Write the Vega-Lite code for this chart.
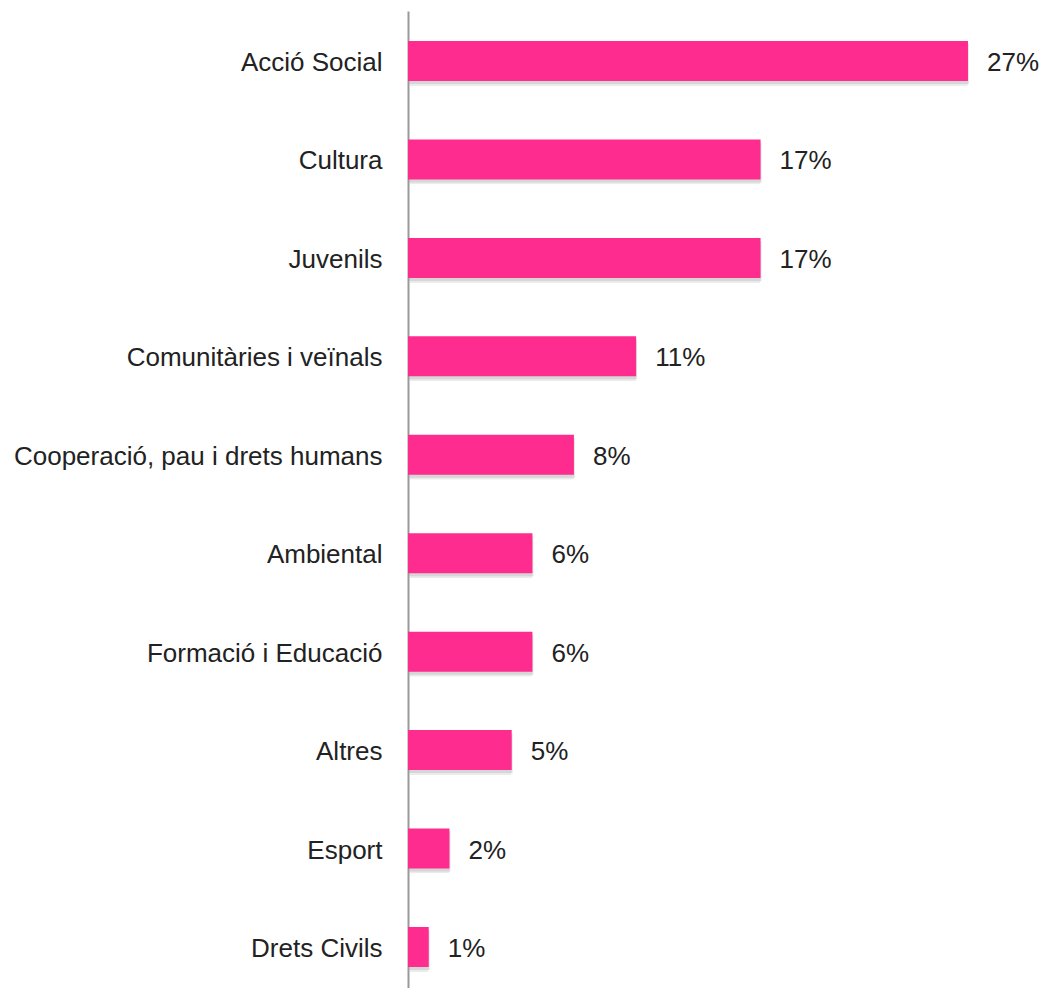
{
  "$schema": "https://vega.github.io/schema/vega-lite/v6.json",
  "autosize": {"type": "none"},
  "padding": {"left": 408, "top": 11, "right": 0, "bottom": 0},
  "width": 639,
  "height": 986,
  "background": "white",
  "config": {"view": {"stroke": null}, "font": "Liberation Sans"},
  "data": {"values": [
    {"category": "Acció Social", "value": 27, "label": "27%"},
    {"category": "Cultura", "value": 17, "label": "17%"},
    {"category": "Juvenils", "value": 17, "label": "17%"},
    {"category": "Comunitàries i veïnals", "value": 11, "label": "11%"},
    {"category": "Cooperació, pau i drets humans", "value": 8, "label": "8%"},
    {"category": "Ambiental", "value": 6, "label": "6%"},
    {"category": "Formació i Educació", "value": 6, "label": "6%"},
    {"category": "Altres", "value": 5, "label": "5%"},
    {"category": "Esport", "value": 2, "label": "2%"},
    {"category": "Drets Civils", "value": 1, "label": "1%"}
  ]},
  "encoding": {
    "y": {"field": "category", "type": "nominal", "sort": null,
      "scale": {"paddingInner": 0.594, "paddingOuter": 0.305},
      "axis": {"title": null, "ticks": false, "labelPadding": 26, "labelOffset": 2, "labelFontSize": 26, "labelColor": "#222222", "labelFont": "Liberation Sans", "domainColor": "#999999", "domainWidth": 2, "labelLimit": 500}},
    "x": {"field": "value", "type": "quantitative", "scale": {"domain": [0, 30.81], "nice": false}, "axis": null}
  },
  "layer": [
    {"mark": {"type": "bar", "color": "#7a7a7a", "opacity": 0.15, "xOffset": 2, "yOffset": 5, "cornerRadius": 2}},
    {"mark": {"type": "bar", "color": "#7a7a7a", "opacity": 0.18, "xOffset": 1, "yOffset": 3}},
    {"mark": {"type": "bar", "color": "#FE2C8E"}},
    {"mark": {"type": "text", "align": "left", "baseline": "middle", "dx": 19, "dy": 2, "fontSize": 26, "color": "#222222", "font": "Liberation Sans"},
      "encoding": {"text": {"field": "label"}}}
  ]
}
